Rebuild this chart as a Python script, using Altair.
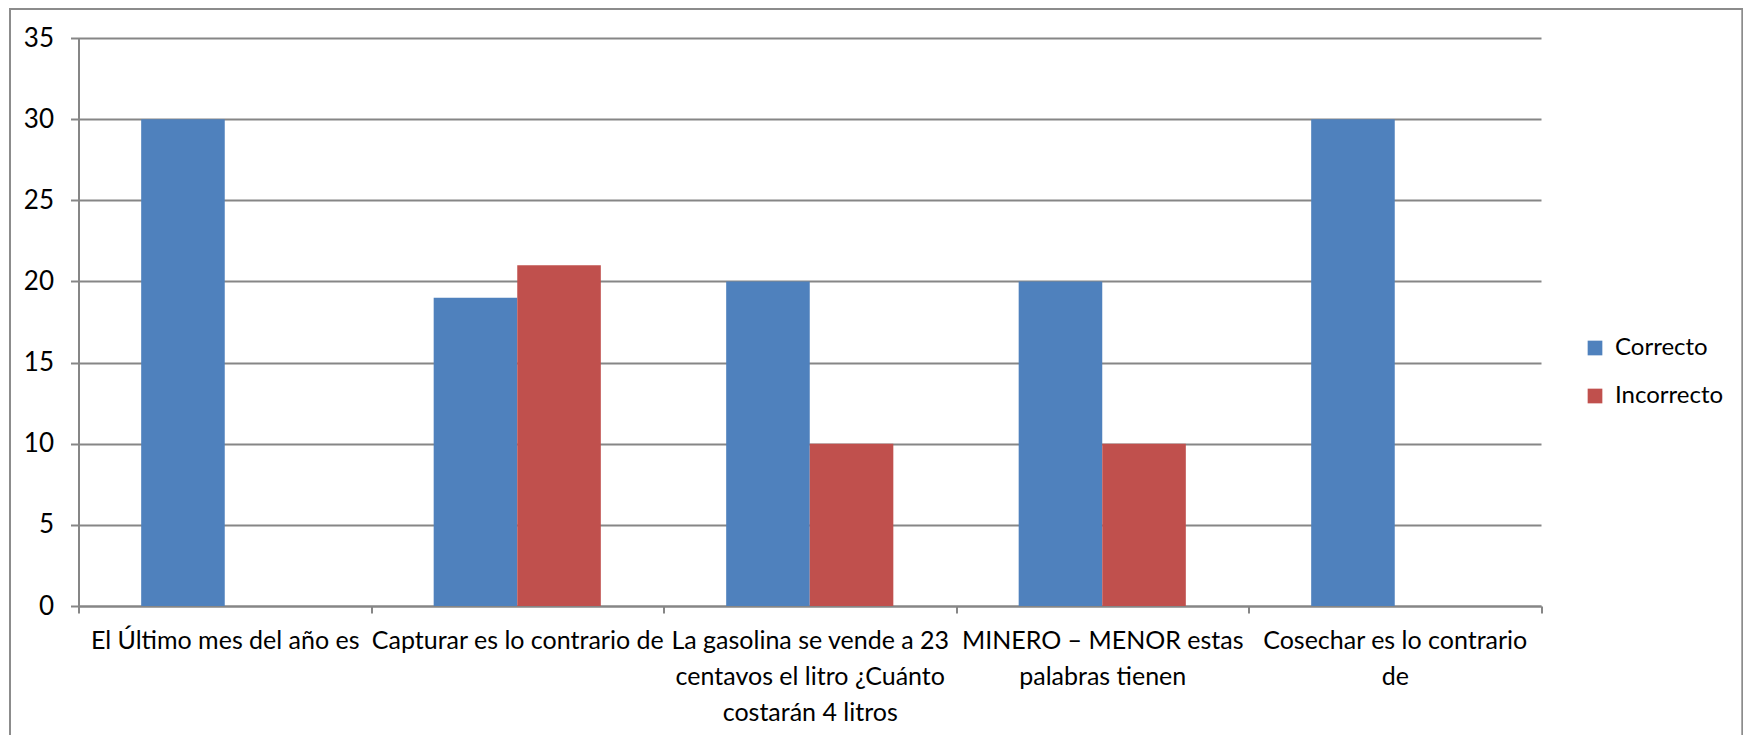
import altair as alt
import pandas as pd

categories = [
    "El Último mes del año es",
    "Capturar es lo contrario de",
    "La gasolina se vende a 23|centavos el litro ¿Cuánto|costarán 4 litros",
    "MINERO – MENOR estas|palabras tienen",
    "Cosechar es lo contrario|de",
]
series = ["Correcto", "Incorrecto"]
correcto = [30, 19, 20, 20, 30]
incorrecto = [0, 21, 10, 10, 0]
y_ticks = [0, 5, 10, 15, 20, 25, 30, 35]
colors = ["#4F81BD", "#C0504D"]

rows = []
for c, a, b in zip(categories, correcto, incorrecto):
    rows.append({"categoria": c, "serie": series[0], "valor": a})
    rows.append({"categoria": c, "serie": series[1], "valor": b})
df = pd.DataFrame(rows)

FONT = "Lato"
GRAY = "#868686"

bars = alt.Chart(df).mark_bar().encode(
    x=alt.X(
        "categoria:N",
        sort=categories,
        scale=alt.Scale(paddingInner=0, paddingOuter=0),
        axis=alt.Axis(
            title=None,
            labelAngle=0,
            labelExpr="split(datum.label, '|')",
            tickBand="extent",
            labelFont=FONT,
            labelFontSize=25,
            labelColor="#000000",
            labelLineHeight=36,
            labelPadding=15,
            labelLimit=2000,
            labelFlush=False,
            labelOverlap=False,
            labelBound=False,
            tickSize=7,
            tickColor=GRAY,
            tickWidth=2,
            domainColor=GRAY,
            domainWidth=2,
            grid=False,
        ),
    ),
    xOffset=alt.XOffset(
        "serie:N", sort=series, scale=alt.Scale(paddingInner=0, paddingOuter=0.75)
    ),
    y=alt.Y(
        "valor:Q",
        scale=alt.Scale(domain=[0, 35], nice=False),
        axis=alt.Axis(
            title=None,
            values=y_ticks,
            labelFont=FONT,
            labelFontSize=26,
            labelColor="#000000",
            labelPadding=17,
            tickSize=8,
            tickColor=GRAY,
            tickWidth=2,
            domainColor=GRAY,
            domainWidth=2,
            grid=True,
            gridColor=GRAY,
            gridWidth=2,
        ),
    ),
    color=alt.Color(
        "serie:N",
        sort=series,
        scale=alt.Scale(domain=series, range=colors),
        legend=alt.Legend(
            title=None,
            orient="none",
            legendX=1504.5,
            legendY=298,
            symbolType="square",
            symbolSize=216,
            symbolStrokeWidth=0,
            symbolOpacity=1,
            labelFont=FONT,
            labelFontSize=24,
            labelColor="#000000",
            labelOffset=8,
            labelLimit=1000,
            rowPadding=24,
            padding=0,
        ),
    ),
)

border = alt.Chart(pd.DataFrame({"k": [0]})).mark_rect(
    fillOpacity=0, stroke="#8c8c8c", strokeWidth=2
).encode(
    x=alt.value(-68.5), x2=alt.value(1663.8), y=alt.value(-29), y2=alt.value(720)
)

chart = alt.layer(border, bars).properties(
    width=1462.5,
    height=568,
    padding={"left": 78.5, "top": 38, "right": 202, "bottom": 129},
    autosize=alt.AutoSizeParams(type="none"),
    background="white",
).configure_view(stroke=None)

chart.save("out.html", embed_options={"renderer": "svg", "actions": False})
